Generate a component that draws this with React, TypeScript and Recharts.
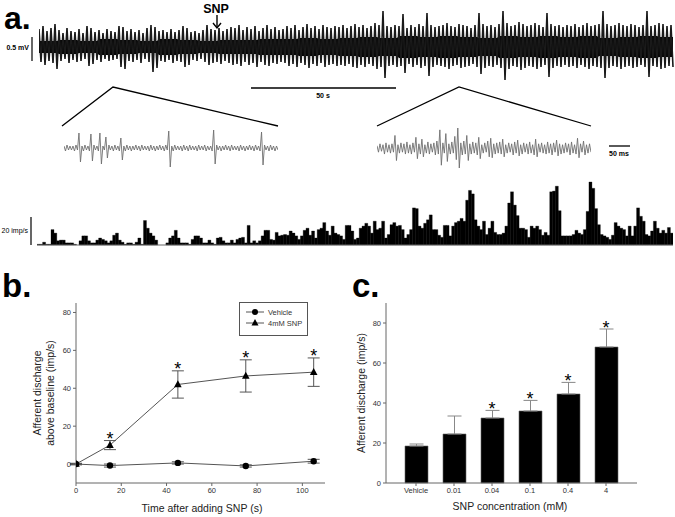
import React from 'react';
import { ComposedChart, BarChart, Line, Area, Bar, XAxis, YAxis, ErrorBar, Scatter } from 'recharts';

const FONT = '"Liberation Sans", Arial, Helvetica, sans-serif';

// ---- panel a: raw nerve trace, envelope per 4px bin (upper / lower spike reach, core noise half-width)
const traceUp = [
  18, 21, 16, 19, 23, 17, 14, 19, 16, 15, 18, 14, 21, 19, 15, 17, 14, 18, 16, 15,
  21, 20, 16, 18, 15, 17, 14, 19, 22, 20, 16, 17, 15, 18, 15, 17, 21, 19, 15, 16,
  14, 17, 22, 18, 17, 19, 16, 18, 20, 19, 22, 17, 20, 18, 21, 16, 19, 22, 18, 20,
  17, 18, 21, 19, 22, 17, 20, 23, 19, 21, 18, 22, 20, 19, 21, 20, 22, 19, 21, 23,
  20, 22, 19, 21, 24, 22, 36, 21, 20, 22, 21, 33, 19, 22, 20, 23, 21, 34, 22, 20,
  21, 22, 24, 21, 20, 23, 22, 21, 19, 22, 34, 23, 21, 22, 20, 23, 36, 24, 21, 22,
  25, 23, 21, 22, 24, 22, 20, 34, 23, 21, 22, 20, 22, 21, 23, 20, 22, 24, 21, 22,
  23, 36, 23, 21, 22, 24, 22, 21, 23, 22, 20, 22, 36, 21, 22, 24, 23, 21, 22,
];
const traceDown = [
  15, 18, 14, 16, 22, 14, 12, 16, 13, 15, 14, 12, 19, 17, 13, 15, 12, 14, 13, 12,
  20, 22, 14, 15, 13, 16, 12, 15, 25, 21, 14, 15, 13, 16, 14, 15, 20, 18, 13, 14,
  12, 15, 18, 16, 15, 17, 14, 16, 18, 17, 19, 15, 18, 16, 20, 15, 18, 19, 16, 17,
  15, 16, 19, 17, 20, 16, 18, 21, 17, 19, 16, 20, 18, 17, 19, 18, 19, 17, 20, 21,
  18, 20, 17, 19, 22, 20, 31, 19, 18, 20, 19, 26, 17, 20, 18, 21, 19, 29, 20, 18,
  19, 20, 22, 19, 18, 21, 20, 19, 17, 20, 27, 21, 19, 20, 18, 21, 33, 22, 19, 20,
  23, 21, 19, 20, 22, 20, 18, 30, 21, 19, 20, 18, 20, 19, 21, 18, 20, 22, 19, 20,
  21, 31, 21, 19, 20, 22, 20, 19, 21, 20, 18, 20, 30, 19, 20, 22, 21, 19, 20,
];
const coreHalf = [6, 7, 6, 8, 7, 6, 8, 7, 6, 7, 7, 8, 8, 9, 8, 9, 10, 9, 11, 10, 11, 10, 9, 11, 10, 11, 10, 11, 9, 10, 11, 10];

// ---- expanded sweeps (left: before SNP, right: after SNP), per 3px bin
const leftUp = [
  2, 3, 2, 2, 3, 15, 2, 3, 2, 14, 3, 2, 15, 2, 11, 3, 2, 3, 2, 10,
  2, 3, 2, 2, 3, 2, 3, 2, 2, 3, 2, 2, 3, 2, 3, 17, 2, 3, 2, 2,
  3, 2, 3, 2, 2, 3, 2, 3, 2, 2, 18, 3, 2, 2, 3, 2, 3, 2, 2, 3,
  2, 2, 3, 2, 3, 2, 16, 3, 2, 3, 2, 2,
];
const leftDown = [
  3, 2, 2, 3, 2, 14, 3, 2, 3, 13, 2, 3, 16, 2, 10, 2, 3, 2, 3, 12,
  3, 2, 3, 2, 2, 3, 2, 2, 3, 2, 3, 2, 2, 3, 2, 19, 3, 2, 2, 3,
  2, 3, 2, 2, 3, 2, 2, 3, 2, 3, 16, 2, 3, 2, 2, 3, 2, 2, 3, 2,
  3, 2, 2, 3, 2, 3, 17, 2, 3, 2, 3, 2,
];
const rightUp = [
  3, 5, 4, 6, 4, 5, 14, 4, 6, 5, 7, 4, 6, 12, 5, 10, 4, 7, 5, 6,
  8, 20, 6, 16, 5, 7, 13, 22, 6, 8, 14, 5, 7, 6, 12, 4, 6, 8, 11, 5,
  6, 7, 10, 4, 6, 5, 7, 9, 4, 6, 5, 7, 4, 10, 5, 6, 4, 7, 5, 6,
  9, 5, 4, 6, 5, 7, 4, 11, 5, 8, 4, 5,
];
const rightDown = [
  4, 3, 6, 4, 5, 4, 13, 5, 4, 6, 5, 6, 4, 11, 6, 9, 5, 6, 4, 7,
  6, 18, 5, 14, 6, 5, 12, 21, 7, 6, 13, 6, 5, 7, 11, 5, 4, 9, 10, 6,
  5, 6, 9, 5, 4, 7, 5, 8, 6, 4, 6, 5, 7, 9, 4, 5, 6, 5, 7, 4,
  8, 6, 5, 4, 7, 5, 6, 10, 4, 7, 5, 4,
];

// ---- rate histogram (imp/s per bin)
const histRate = [
  0.5, 0.5, 2, 0.5, 0.5, 11, 8.5, 3, 3.5, 3.5, 1.5, 1.5, 1.5, 0.5, 0, 3, 6.5, 6.5, 3, 1.5,
  1.5, 3.5, 5, 4, 3, 1.5, 3, 7, 8.5, 3.5, 2, 0.5, 1.5, 1.5, 0.5, 2, 5, 0.5, 17.5, 12,
  8.5, 6.5, 3.5, 0, 0, 0, 1.5, 5, 6.5, 10.5, 5, 1.5, 1.5, 1.5,
  0.5, 4, 6.5, 6.5, 5, 1.5, 1.5, 3.5, 1.5, 0.5, 5, 5.5, 3, 1.5, 1.5, 3.5, 1.5, 4, 5, 5.5,
  1.5, 14, 1.5, 3, 1.5, 3, 6.5, 10.5, 10.5, 4, 3.5, 9, 6.5, 7, 7.5, 7, 10, 8.5, 6.5, 4,
  6.5, 10.5, 12, 7, 10, 5, 11, 12, 16, 10, 7, 13.5, 8.5, 7.5, 6.5,
  4, 14, 14, 10, 4, 5, 12, 13.5, 15.5, 13.5, 8.5, 17, 11, 12, 17, 5, 7.5, 14.5, 16, 13.5,
  14, 11, 5, 7.5, 11, 26.5, 26, 13.5, 12, 15.5, 18, 21.5, 11, 11, 7, 5.5, 14, 14, 6.5, 13.5,
  16, 17, 19, 17, 32, 39, 36.5, 18, 13.5, 11, 17, 7.5, 12, 17, 9, 7.5,
  7.5, 8.5, 13.5, 30, 38, 28.5, 21, 12, 12, 11, 5.5, 13.5, 12, 13.5, 11, 7, 9, 7, 38, 38.5,
  42, 24.5, 6.5, 6.5, 6.5, 6.5, 7.5, 10.5, 8.5, 7.5, 11, 24, 45, 40.5, 26, 14.5, 7.5, 6.5, 5.5, 4,
  7, 16, 13.5, 12, 11, 6.5, 13.5, 6.5, 13.5, 26.5, 20.5, 17, 7.5, 6.5, 10, 17, 12, 8.5, 10.5, 8.5,
  12.5, 8.5,
];

// ---- panel b: time course
const timeSec = [0, 15, 45, 75, 105];
const vehicle = [0, -0.8, 0.6, -1.0, 1.5];
const vehicleErr = [0.3, 0.8, 0.6, 0.6, 1.0];
const snp4mM = [0, 10, 42, 46.5, 48.5];
const snp4mMErr = [0.4, 2.4, 7.2, 8.5, 7.5];
const snpSig = [false, true, true, true, true];

// ---- panel c: dose response
const concLabels = ['Vehicle', '0.01', '0.04', '0.1', '0.4', '4'];
const discharge = [18.5, 24.5, 32.5, 36, 44.5, 68];
const dischargeErr = [1, 9, 3.8, 5.3, 5.8, 9];
const concSig = [false, false, true, true, true, true];

const zigzag = (up: number[], down: number[]) =>
  up.flatMap((u, i) => [
    { t: i, v: u },
    { t: i + 0.5, v: -down[i] },
  ]);

const mainData = traceUp.flatMap((u, i) => {
  const c = coreHalf[Math.floor(i / 5)];
  return [
    { t: i, v: u, core: [-c, c] },
    { t: i + 0.5, v: -traceDown[i], core: [-c, c] },
  ];
});

const histData = histRate.map((v, i) => ({ i, v }));

const bData = timeSec.map((t, i) => ({
  t,
  veh: vehicle[i],
  vehErr: vehicleErr[i],
  snp: snp4mM[i],
  snpErr: snp4mMErr[i],
  star: snpSig[i] ? snp4mM[i] + snp4mMErr[i] : null,
}));

const cData = concLabels.map((c, i) => ({
  c,
  v: discharge[i],
  e: [0, dischargeErr[i]],
  star: concSig[i] ? discharge[i] + dischargeErr[i] : null,
}));

const tickStyle = { fontSize: 7.5, fill: '#333', fontFamily: FONT };

// asterisk sitting just above the upper whisker cap
const StarShape = (p: any) => {
  if (p.payload == null || p.payload.star == null) return <g />;
  return (
    <text x={p.cx} y={p.cy + 4.5} textAnchor="middle" fontSize={18} fontFamily={FONT} fill="#000" stroke="none">
      *
    </text>
  );
};

const Sweep = ({ up, down, width }: { up: number[]; down: number[]; width: number }) => (
  <ComposedChart width={width} height={40} data={zigzag(up, down)} margin={{ top: 0, right: 0, bottom: 0, left: 0 }}>
    <XAxis type="number" dataKey="t" domain={[0, up.length - 0.5]} hide />
    <YAxis type="number" domain={[-20, 20]} hide />
    <Line dataKey="v" stroke="#6f6f6f" strokeWidth={0.9} dot={false} isAnimationActive={false} />
  </ComposedChart>
);

export default function App() {
  return (
    <div style={{ position: 'absolute', left: 0, top: 0, width: 675, height: 517, background: '#fff', overflow: 'hidden', fontFamily: FONT }}>
      {/* raw trace */}
      <div style={{ position: 'absolute', left: 39, top: 10 }}>
        <ComposedChart width={636} height={74} data={mainData} margin={{ top: 0, right: 0, bottom: 0, left: 0 }}>
          <XAxis type="number" dataKey="t" domain={[0, 159]} hide />
          <YAxis type="number" domain={[-37, 37]} hide />
          <Area dataKey="core" fill="#000" fillOpacity={1} stroke="none" isAnimationActive={false} />
          <Line dataKey="v" stroke="#1a1a1a" strokeWidth={1.6} dot={false} isAnimationActive={false} />
        </ComposedChart>
      </div>

      {/* expanded sweeps */}
      <div style={{ position: 'absolute', left: 64, top: 128 }}>
        <Sweep up={leftUp} down={leftDown} width={214} />
      </div>
      <div style={{ position: 'absolute', left: 377, top: 128 }}>
        <Sweep up={rightUp} down={rightDown} width={214} />
      </div>

      {/* rate histogram */}
      <div style={{ position: 'absolute', left: 37, top: 175 }}>
        <BarChart width={636} height={71} data={histData} margin={{ top: 0, right: 0, bottom: 0, left: 0 }} barCategoryGap={0} barGap={0}>
          <XAxis dataKey="i" tick={false} tickLine={false} height={1} stroke="#666" />
          <YAxis hide domain={[0, 50]} />
          <Bar dataKey="v" fill="#000" stroke="#000" strokeWidth={0.3} isAnimationActive={false} />
        </BarChart>
      </div>

      {/* panel b */}
      <div style={{ position: 'absolute', left: 20, top: 295 }}>
        <ComposedChart width={320} height={222} data={bData} margin={{ top: 8, right: 15, bottom: 0, left: 0 }}>
          <XAxis type="number" dataKey="t" domain={[0, 110]} ticks={[0, 20, 40, 60, 80, 100]} tick={tickStyle} tickSize={3} tickMargin={2} stroke="#666" height={34} allowDataOverflow />
          <YAxis type="number" domain={[-10, 85]} ticks={[0, 20, 40, 60, 80]} tick={tickStyle} tickSize={3} tickMargin={2} stroke="#666" width={56} allowDataOverflow />
          <Line
            dataKey="veh"
            stroke="#555"
            strokeWidth={1}
            isAnimationActive={false}
            dot={(p: any) => <circle key={`v${p.index}`} cx={p.cx} cy={p.cy} r={3.2} fill="#000" />}
          >
            <ErrorBar dataKey="vehErr" width={6} stroke="#555" strokeWidth={1} />
          </Line>
          <Line
            dataKey="snp"
            stroke="#555"
            strokeWidth={1}
            isAnimationActive={false}
            dot={(p: any) => (
              <polygon key={`s${p.index}`} points={`${p.cx},${p.cy - 4.2} ${p.cx - 3.8},${p.cy + 2.8} ${p.cx + 3.8},${p.cy + 2.8}`} fill="#000" />
            )}
          >
            <ErrorBar dataKey="snpErr" width={6} stroke="#555" strokeWidth={1} />
          </Line>
          <Scatter dataKey="star" fill="#000" shape={StarShape} isAnimationActive={false} />
        </ComposedChart>
      </div>

      {/* panel b legend */}
      <div style={{ position: 'absolute', left: 239, top: 302, width: 67, height: 32, border: '1px solid #555', background: '#fff' }}>
        <svg width={67} height={32}>
          <line x1={6} y1={9} x2={24} y2={9} stroke="#555" />
          <circle cx={15} cy={9} r={3} fill="#000" />
          <text x={28} y={11.5} fontSize={7.5} fontFamily={FONT} fill="#333">Vehicle</text>
          <line x1={6} y1={20} x2={24} y2={20} stroke="#555" />
          <polygon points="15,16 11.5,22.5 18.5,22.5" fill="#000" />
          <text x={28} y={22.5} fontSize={7.5} fontFamily={FONT} fill="#333">4mM SNP</text>
        </svg>
      </div>

      {/* panel c */}
      <div style={{ position: 'absolute', left: 340, top: 295 }}>
        <ComposedChart width={310} height={222} data={cData} margin={{ top: 8, right: 13, bottom: 0, left: 0 }}>
          <XAxis dataKey="c" padding={{ left: 11, right: 12 }} tick={tickStyle} tickSize={3} tickMargin={2} stroke="#666" height={34} />
          <YAxis type="number" domain={[0, 90]} ticks={[0, 20, 40, 60, 80]} tick={tickStyle} tickSize={3} tickMargin={2} stroke="#666" width={46} />
          <Bar dataKey="v" fill="#000" stroke="#666" strokeWidth={0.6} barSize={23} isAnimationActive={false}>
            <ErrorBar dataKey="e" width={7} stroke="#888" strokeWidth={1} />
          </Bar>
          <Scatter dataKey="star" fill="#000" shape={StarShape} isAnimationActive={false} />
        </ComposedChart>
      </div>

      {/* annotations */}
      <svg width={675} height={517} style={{ position: 'absolute', left: 0, top: 0, pointerEvents: 'none' }} fontFamily={FONT}>
        <text x={4} y={29} fontSize={32} fontWeight="bold">a.</text>
        <text x={2} y={297} fontSize={33} fontWeight="bold">b.</text>
        <text x={352} y={297} fontSize={33} fontWeight="bold">c.</text>

        <text x={216} y={13} fontSize={12.5} fontWeight="bold" textAnchor="middle">SNP</text>
        <line x1={217} y1={15} x2={217} y2={28} stroke="#000" strokeWidth={1.4} />
        <polyline points="213,23 217,28 221,23" fill="none" stroke="#000" strokeWidth={1.4} />

        <text x={29} y={50} fontSize={7} fontWeight="bold" textAnchor="end">0.5 mV</text>
        <line x1={32} y1={37} x2={32} y2={61} stroke="#000" strokeWidth={1.2} />

        <line x1={251} y1={88} x2={396} y2={88} stroke="#000" strokeWidth={1.3} />
        <text x={323} y={98} fontSize={7} fontWeight="bold" textAnchor="middle">50 s</text>

        <polyline points="62,126 113,87 278,126" fill="none" stroke="#000" strokeWidth={1.3} />
        <polyline points="377,126 459,87 591,126" fill="none" stroke="#000" strokeWidth={1.3} />

        <line x1={609} y1={146} x2={630} y2={146} stroke="#000" strokeWidth={1.3} />
        <text x={619} y={156} fontSize={7} fontWeight="bold" textAnchor="middle">50 ms</text>

        <text x={28} y={233} fontSize={7} textAnchor="end">20 imp/s</text>
        <line x1={31} y1={217} x2={31} y2={245} stroke="#000" strokeWidth={1.2} />

        <text transform="translate(41,393) rotate(-90)" fontSize={10.5} textAnchor="middle" fill="#222">Afferent discharge</text>
        <text transform="translate(54,393) rotate(-90)" fontSize={10.5} textAnchor="middle" fill="#222">above baseline (imp/s)</text>
        <text x={202} y={512} fontSize={10.5} textAnchor="middle" fill="#222">Time after adding SNP (s)</text>

        <text transform="translate(365,393) rotate(-90)" fontSize={10.5} textAnchor="middle" fill="#222">Afferent discharge (imp/s)</text>
        <text x={510} y={510} fontSize={10.5} textAnchor="middle" fill="#222">SNP concentration (mM)</text>
      </svg>
    </div>
  );
}
